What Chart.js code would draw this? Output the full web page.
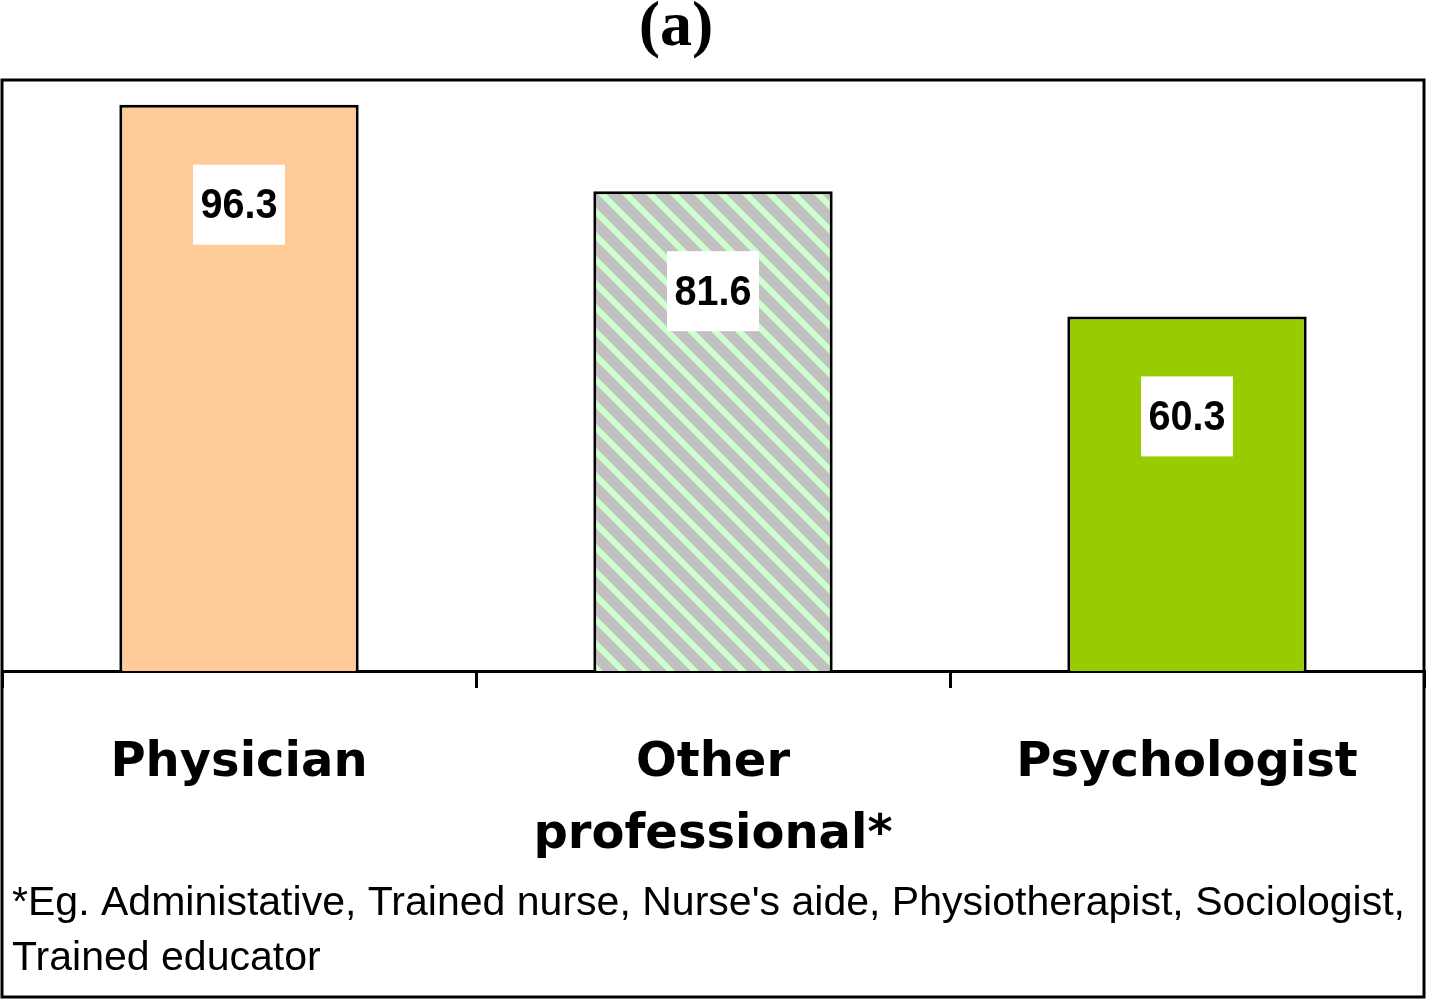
<!DOCTYPE html>
<html><head><meta charset="utf-8">
<script src="https://cdn.jsdelivr.net/npm/chart.js@4/dist/chart.umd.min.js"></script>
<style>html,body{margin:0;padding:0;background:#fff;overflow:hidden}#wrap{width:1429px;height:1000px}</style>
</head><body><div id="wrap"><canvas id="c" width="1429" height="1000"></canvas></div>
<script>
const categories = ["Physician", ["Other", "professional*"], "Psychologist"];
const values = [96.3, 81.6, 60.3];
const valueLabels = ["96.3", "81.6", "60.3"];
const titleText = "(a)";
const footnoteLines = ["*Eg. Administative, Trained nurse, Nurse's aide, Physiotherapist, Sociologist,", "Trained educator"];

function stripePattern() {
  const t = document.createElement('canvas');
  t.width = 24; t.height = 24;
  const g = t.getContext('2d');
  g.fillStyle = '#C0C0C0'; g.fillRect(0, 0, 24, 24);
  g.strokeStyle = '#CCFFCC'; g.lineWidth = 6;
  for (let k = -1; k <= 1; k++) {
    g.beginPath(); g.moveTo(k * 24 - 6, -6); g.lineTo(k * 24 + 30, 30); g.stroke();
  }
  return document.getElementById('c').getContext('2d').createPattern(t, 'repeat');
}

const decor = {
  id: 'decor',
  afterDatasetsDraw(chart) {
    const ctx = chart.ctx;
    const meta = chart.getDatasetMeta(0);
    ctx.save();
    meta.data.forEach((bar, i) => {
      const cx = bar.x, cy = bar.y + 100;
      ctx.fillStyle = '#fff';
      ctx.fillRect(cx - 46, cy - 40, 92, 80);
      ctx.fillStyle = '#000';
      ctx.font = "bold 42px 'Liberation Sans Narrow', 'Liberation Sans', Arial, sans-serif";
      ctx.textAlign = 'center'; ctx.textBaseline = 'middle';
      const w = ctx.measureText(valueLabels[i]).width;
      const s = 77 / w;
      ctx.save(); ctx.translate(cx, cy); ctx.scale(s, 1);
      ctx.fillText(valueLabels[i], 0, 2);
      ctx.restore();
    });
    ctx.restore();
  },
  afterDraw(chart) {
    const ctx = chart.ctx;
    const a = chart.chartArea;
    ctx.save();
    ctx.strokeStyle = '#000'; ctx.lineWidth = 3;
    ctx.strokeRect(a.left, a.top, a.right - a.left, 997 - a.top);
    ctx.fillStyle = '#000';
    ctx.font = "bold 64px 'Liberation Serif', 'Times New Roman', serif";
    ctx.textAlign = 'center'; ctx.textBaseline = 'middle';
    ctx.fillText(titleText, 676, 28);
    ctx.font = "40px 'Liberation Sans', Arial, sans-serif";
    ctx.textAlign = 'left';
    const s = 1393 / ctx.measureText(footnoteLines[0]).width;
    footnoteLines.forEach((ln, i) => {
      ctx.save(); ctx.translate(12, 904 + i * 55); ctx.scale(s, 1);
      ctx.fillText(ln, 0, 0); ctx.restore();
    });
    ctx.restore();
  }
};

new Chart(document.getElementById('c'), {
  type: 'bar',
  data: {
    labels: categories,
    datasets: [{
      data: values,
      backgroundColor: ['#FFCC99', stripePattern(), '#99CC00'],
      borderColor: '#000',
      borderWidth: 3,
      borderSkipped: 'bottom',
      categoryPercentage: 1,
      barPercentage: 0.505
    }]
  },
  options: {
    responsive: false,
    devicePixelRatio: 1,
    animation: false,
    layout: { padding: { left: 2, right: 5, top: 80, bottom: 0 } },
    plugins: { legend: { display: false }, tooltip: { enabled: false }, title: { display: false } },
    scales: {
      y: { display: false, min: 0, max: 100.5 },
      x: {
        afterFit(s) { s.height = 329; },
        border: { display: true, color: '#000', width: 3 },
        grid: { display: true, drawOnChartArea: false, drawTicks: true, tickLength: 17, color: '#000', lineWidth: 3, offset: true },
        ticks: {
          color: '#000', padding: 40, maxRotation: 0, autoSkip: false,
          font: { family: "'DejaVu Sans', sans-serif", weight: 'bold', size: 48, lineHeight: 1.5 }
        }
      }
    }
  },
  plugins: [decor]
});
</script>
</body></html>
